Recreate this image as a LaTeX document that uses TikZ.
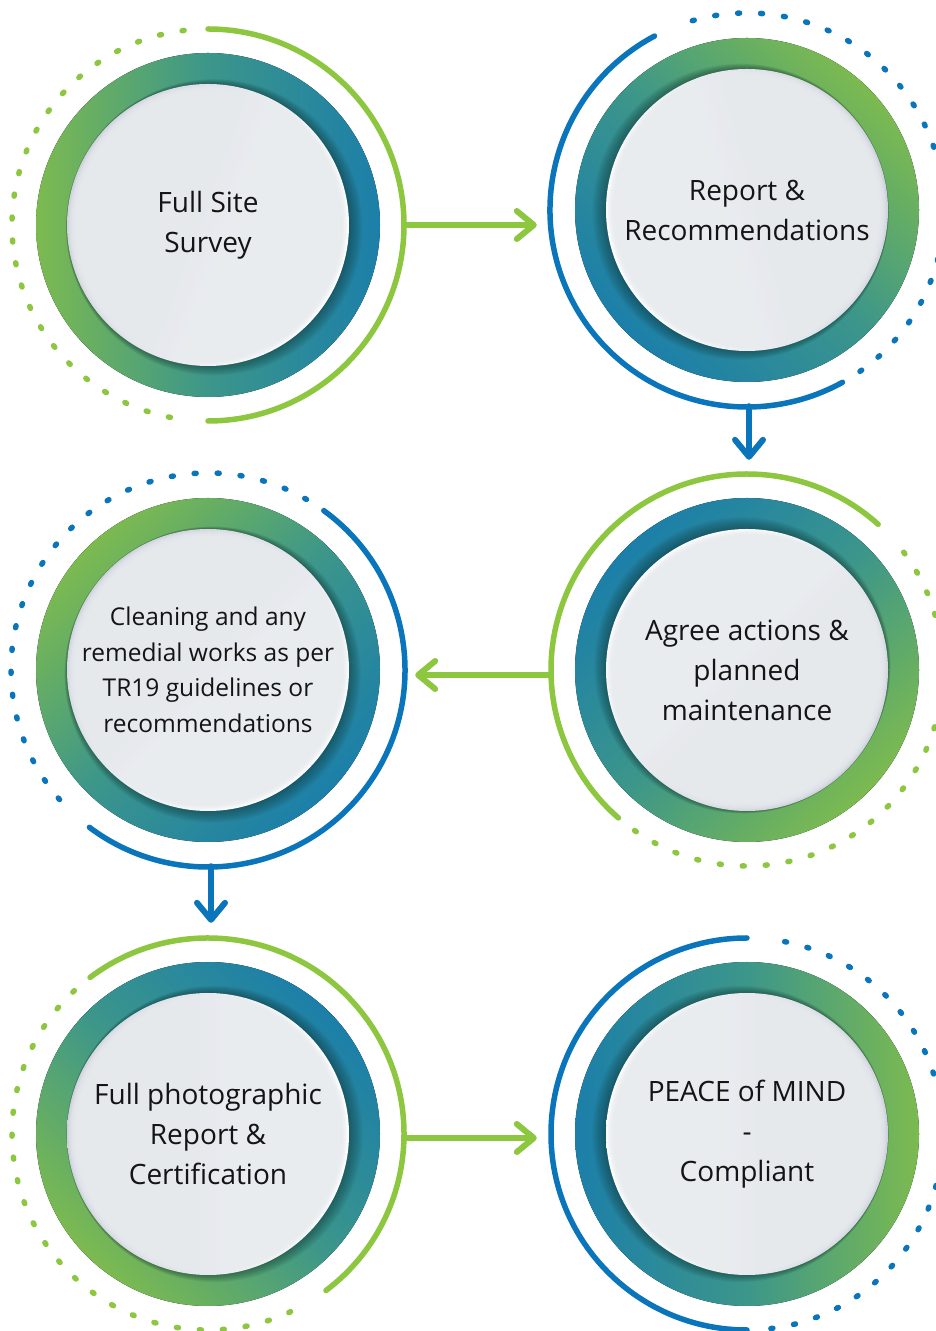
\documentclass[tikz,border=0pt]{standalone}
\usepackage{fontspec}
\setmainfont{Open Sans}
\usetikzlibrary{arrows.meta}
\definecolor{lgreen}{HTML}{8DC63F}
\definecolor{lblue}{HTML}{0B75BC}
\definecolor{rgreen}{HTML}{7CBA50}
\definecolor{rteal}{HTML}{3C968A}
\definecolor{rblue}{HTML}{1C7FA9}
\definecolor{discc}{HTML}{E8ECEF}
\definecolor{discedge}{HTML}{CFD2DC}
\definecolor{shadowc}{HTML}{0E2A2A}
\newcommand\stagering[3]{%
  \fill[top color=rgreen, bottom color=rblue, middle color=rteal, shading angle=#2] (#1) circle[radius=172];
  \foreach \k in {1,...,12}{\fill[shadowc, opacity=0.045] ([shift={(#3:{0.55*\k})}]#1) circle[radius={141+0.6*\k}];}
  \shade[top color=white, bottom color=discedge, shading angle={#3-90}] (#1) circle[radius=141];
  \foreach \k in {0,...,7}{\fill[discc, opacity=0.28] (#1) circle[radius={139.5-\k}];}
}
\tikzset{
  stage/.style={circle, minimum size=392pt, inner sep=0pt, align=center, text=black!92, font=\fontsize{28}{40}\selectfont},
  smalltext/.style={font=\fontsize{24.5}{35.5}\selectfont},
  gsolid/.style={draw=lgreen, line width=5.5pt, line cap=round},
  bsolid/.style={draw=lblue, line width=5.5pt, line cap=round},
  gdots/.style={draw=lgreen, line width=5.5pt, line cap=round, dash pattern=on 2pt off 21pt},
  bdots/.style={draw=lblue, line width=5.5pt, line cap=round, dash pattern=on 2pt off 21pt},
  chev/.style={-{Straight Barb[length=17pt, width=28pt, line cap=round, line join=round]}},
  garrow/.style={draw=lgreen, line width=6pt, line cap=round, chev},
  barrow/.style={draw=lblue, line width=6pt, line cap=round, chev}
}
\begin{document}
\begin{tikzpicture}[x=1pt,y=1pt]
\useasboundingbox (0,0) rectangle (935,1331);
\coordinate (p1) at (208,1106);
\coordinate (p2) at (747,1121);
\coordinate (p3) at (208,661);
\coordinate (p4) at (747,661);
\coordinate (p5) at (208,197);
\coordinate (p6) at (747,197);
\stagering{p1}{90}{-20}
\stagering{p2}{-45}{195}
\stagering{p3}{45}{-45}
\stagering{p4}{-135}{135}
\stagering{p5}{135}{0}
\stagering{p6}{-90}{180}
\node[stage] (c1) at (p1) {Full Site\\Survey};
\node[stage] (c2) at (p2) {Report \&\\Recommendations};
\node[stage, smalltext] (c3) at (p3) {Cleaning and any\\remedial works as per\\TR19 guidelines or\\recommendations};
\node[stage] (c4) at (p4) {Agree actions \&\\planned\\maintenance};
\node[stage] (c5) at (p5) {Full photographic\\Report \&\\Certification};
\node[stage] (c6) at (p6) {PEACE of MIND\\-\\Compliant};
% arcs
\draw[gsolid] ([shift={(90:196)}]c1.center) arc[start angle=90, end angle=-90, radius=196];
\draw[gdots] ([shift={(97:196)}]c1.center) arc[start angle=97, end angle=263, radius=196];
\draw[bsolid] ([shift={(118:197)}]c2.center) arc[start angle=118, end angle=299, radius=197];
\draw[bdots] ([shift={(-55:197)}]c2.center) arc[start angle=-55, end angle=112, radius=197];
\draw[bsolid] ([shift={(54:197)}]c3.center) arc[start angle=54, end angle=-127, radius=197];
\draw[bdots] ([shift={(60:197)}]c3.center) arc[start angle=60, end angle=226, radius=197];
\draw[gsolid] ([shift={(48:196)}]c4.center) arc[start angle=48, end angle=229, radius=196];
\draw[gdots] ([shift={(-125:196)}]c4.center) arc[start angle=-125, end angle=41, radius=196];
\draw[gsolid] ([shift={(127:196)}]c5.center) arc[start angle=127, end angle=-53, radius=196];
\draw[gdots] ([shift={(133:196)}]c5.center) arc[start angle=133, end angle=300, radius=196];
\draw[bsolid] ([shift={(90:196)}]c6.center) arc[start angle=90, end angle=270, radius=196];
\draw[bdots] ([shift={(-83:196)}]c6.center) arc[start angle=-83, end angle=83, radius=196];
% arrows
\draw[garrow, shorten >=14pt] (c1.east) -- (c1.east -| c2.west);
\draw[barrow, shorten >=14pt] ([xshift=2pt]c2.south) -- ([xshift=2pt]c2.south |- c4.north);
\draw[garrow, shorten >=11pt] ([yshift=-5pt]c4.west) -- ([yshift=-5pt]c3.east);
\draw[barrow, shorten >=15pt] ([xshift=3pt]c3.south) -- ([xshift=3pt]c3.south |- c5.north);
\draw[garrow, shorten >=14pt] ([yshift=-4pt]c5.east) -- ([yshift=-4pt]c5.east -| c6.west);
\end{tikzpicture}
\end{document}
